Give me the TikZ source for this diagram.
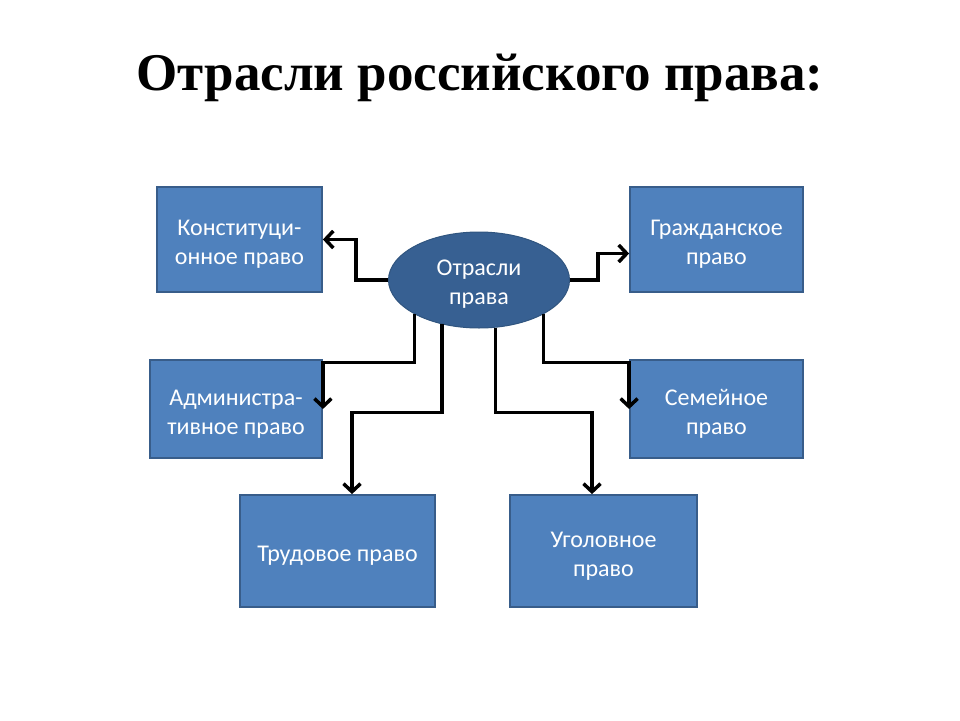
\documentclass[tikz,border=0pt]{standalone}
\usepackage{fontspec}
\setmainfont{Liberation Serif}
\newfontfamily\boxfont{Carlito}
\usetikzlibrary{shapes.geometric,arrows.meta}
\definecolor{boxfill}{HTML}{4F81BD}
\definecolor{boxline}{HTML}{385D8A}
\definecolor{ellfill}{HTML}{376092}
\definecolor{ellline}{HTML}{30557F}
\tikzset{
  branch/.style={draw=boxline, line width=1.8pt, fill=boxfill, inner sep=0pt},
  boxtext/.style={text=white, font=\boxfont\fontsize{24}{29}\selectfont,
    align=center, inner sep=0pt},
  center ell/.style={ellipse, draw=ellline, line width=1pt, fill=ellfill, inner sep=0pt,
    minimum width=181pt, minimum height=96pt},
  conn/.style={draw=black, line width=3.5pt, -{Straight Barb[length=8pt,width=17pt]}},
}
\begin{document}
\begin{tikzpicture}[x=1pt,y=-1pt]
\useasboundingbox (0,0) rectangle (960,720);
\node[font=\bfseries\fontsize{53}{58}\selectfont] (title) at (480,78) {Отрасли российского права:};

\node[branch, minimum width=165pt, minimum height=105pt] (konst) at (239.5,239.5) {};
\node[branch, minimum width=173pt, minimum height=105pt] (grazh) at (716.5,239.5) {};
\node[branch, minimum width=172pt, minimum height=98pt] (admin) at (236,409) {};
\node[branch, minimum width=173pt, minimum height=98pt] (sem) at (716.5,409) {};
\node[branch, minimum width=195pt, minimum height=112pt] (trud) at (337.5,551) {};
\node[branch, minimum width=187pt, minimum height=112pt] (ugol) at (603.5,551) {};
\node[center ell] (ell) at (479,280) {};

\node[boxtext] (konstT) at ([yshift=-5pt]konst.center) {Конституци-\\онное право};
\node[boxtext] (grazhT) at ([yshift=-5pt]grazh.center) {Гражданское\\право};
\node[boxtext] (adminT) at ([yshift=-5pt]admin.center) {Администра-\\тивное право};
\node[boxtext] (semT) at ([yshift=-5pt]sem.center) {Семейное\\право};
\node[boxtext] (trudT) at ([yshift=-5pt]trud.center) {Трудовое право};
\node[boxtext] (ugolT) at ([yshift=-5pt]ugol.center) {Уголовное\\право};
\node[boxtext] (ellT) at ([yshift=-4pt]ell.center) {Отрасли\\права};

\draw[conn] (ell.west) -- ++(-32,0) |- (konst.east);
\draw[conn] (ell.east) -- ++(28,0) |- ([yshift=-14pt]grazh.west);
\draw[conn] (ell.south west) -- ++(0,48) -| (admin.east);
\draw[conn] (ell.south east) -- ++(0,48) -| (sem.west);
\draw[conn] (ell.230) -- ++(0,88) -| ([xshift=14.5pt]trud.north);
\draw[conn] (ell.289) -- ++(0,85) -| ([xshift=-11.5pt]ugol.north);
\end{tikzpicture}
\end{document}
